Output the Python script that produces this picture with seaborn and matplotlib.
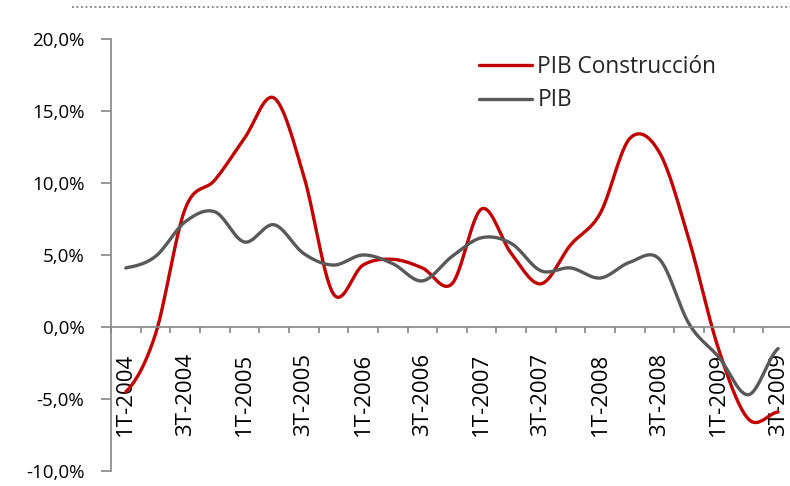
import numpy as np
import pandas as pd
import matplotlib
matplotlib.use('Agg')
import matplotlib.pyplot as plt
import seaborn as sns
from matplotlib.lines import Line2D
from matplotlib.ticker import FuncFormatter

# trimestres 1T-2004 .. 3T-2009
trimestres = [f'{q}T-{a}' for a in range(2004, 2010) for q in (1, 2, 3, 4)][:23]

# tasas de variacion interanual (%)
pib_construccion = [-4.5, -0.5, 8.2, 10.2, 13.1, 15.9, 10.5, 2.3, 4.3, 4.7, 4.1, 3.0,
                    8.2, 5.1, 3.0, 5.7, 7.9, 13.1, 12.1, 6.0, -1.6, -6.4, -5.9]
pib = [4.1, 4.9, 7.3, 8.0, 5.9, 7.1, 5.1, 4.3, 5.0, 4.4, 3.2, 4.9,
       6.2, 5.8, 3.9, 4.1, 3.4, 4.5, 4.7, 0.2, -2.1, -4.7, -1.5]

ROJO = '#C00000'
GRIS = '#595959'
EJE = '#868686'


def suavizar(vals, n=30):
    # linea suavizada tipo Excel (Bezier / Catmull-Rom)
    p = np.asarray(vals, dtype=float)
    ext = np.concatenate([[p[0]], p, [p[-1]]])
    xs, ys = [], []
    for i in range(len(p) - 1):
        p0, p1, p2, p3 = ext[i], ext[i + 1], ext[i + 2], ext[i + 3]
        c1 = p1 + (p2 - p0) / 6
        c2 = p2 - (p3 - p1) / 6
        t = np.linspace(0, 1, n, endpoint=(i == len(p) - 2))
        y = (1 - t) ** 3 * p1 + 3 * (1 - t) ** 2 * t * c1 + 3 * (1 - t) * t ** 2 * c2 + t ** 3 * p2
        xs.append(i + t)
        ys.append(y)
    return np.concatenate(xs), np.concatenate(ys)


sns.set_style('white')
plt.rcParams['font.family'] = ['Open Sans', 'DejaVu Sans']

fig = plt.figure(figsize=(7.9, 4.86), dpi=100)
ax = fig.add_axes([0.1405, 0.0309, 0.8633, 0.8889])

xc, yc = suavizar(pib_construccion)
xp, yp = suavizar(pib)
sns.lineplot(x=xc, y=yc, color=ROJO, linewidth=2.4, label='PIB Construcción', ax=ax)
sns.lineplot(x=xp, y=yp, color=GRIS, linewidth=2.4, label='PIB', ax=ax)

ax.set_xlim(-0.5, 22.5)
ax.set_ylim(-10, 20)
ax.set_axisbelow(True)

for s in ['top', 'right']:
    ax.spines[s].set_visible(False)
ax.spines['bottom'].set_position(('data', 0))
for s in ['left', 'bottom']:
    ax.spines[s].set_color(EJE)
    ax.spines[s].set_linewidth(1.2)

ax.set_xticks(range(0, 23, 2))
ax.set_xticklabels(trimestres[::2], rotation=90)
ax.set_xticks(np.arange(-0.5, 23, 1), minor=True)
ax.tick_params(axis='x', which='major', length=0, pad=18.5, labelsize=16, labelcolor='black')
ax.tick_params(axis='x', which='minor', length=4.5, width=1.2, color=EJE, direction='out', bottom=True)

ax.set_yticks(range(-10, 21, 5))
ax.yaxis.set_major_formatter(FuncFormatter(lambda v, _: f'{v:.1f}'.replace('.', ',') + '%'))
ax.tick_params(axis='y', length=7.2, width=1.2, color=EJE, direction='out', left=True,
               pad=12, labelsize=13.5, labelcolor='black')
ax.set_xlabel('')
ax.set_ylabel('')

ax.legend(loc='upper left', bbox_to_anchor=(0.54, 0.962), frameon=False, fontsize=16.3,
          borderpad=0, borderaxespad=0, handlelength=2.35, handletextpad=0.22, labelspacing=0.4)

fig.add_artist(Line2D([0.091, 1.0], [0.9856, 0.9856], transform=fig.transFigure,
                      color='#7f7f7f', linestyle=(0, (1, 1.5)), linewidth=1.3))

fig.savefig('out.png', dpi=100)
